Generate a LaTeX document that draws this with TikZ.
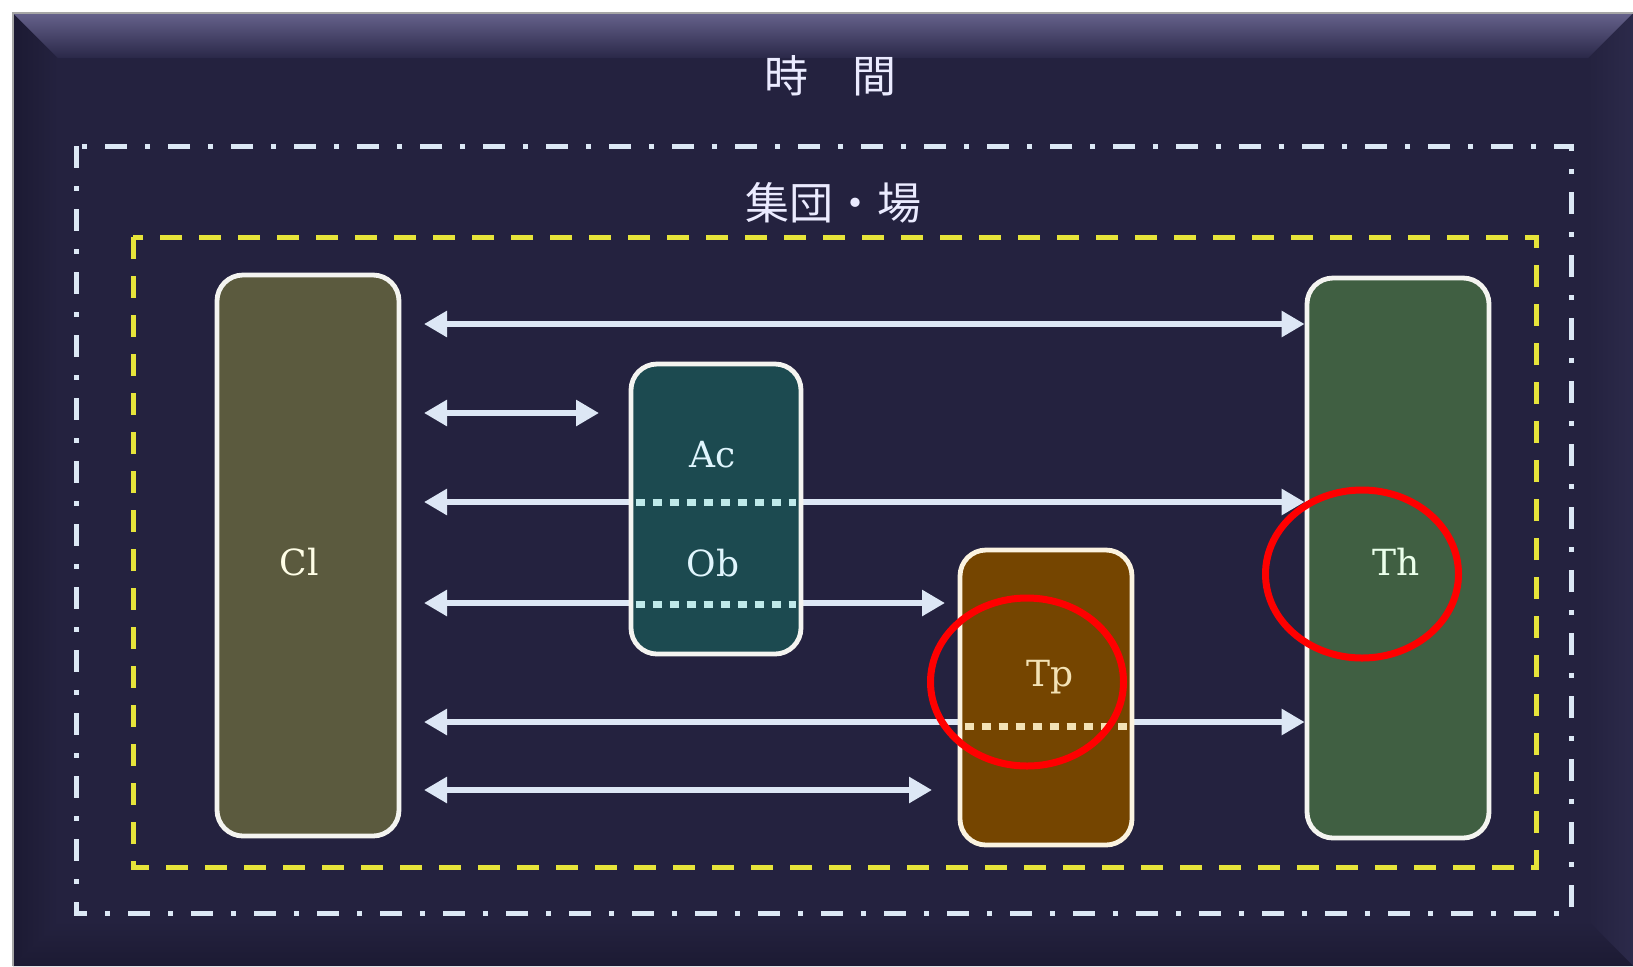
\documentclass[tikz,border=0pt]{standalone}
\usepackage{fontspec}
\setmainfont{DejaVu Serif}
\newfontfamily\cjk{Noto Sans CJK JP}
\usetikzlibrary{arrows.meta,calc,shapes.geometric}
\definecolor{bgc}{HTML}{24223F}
\definecolor{bevtop}{HTML}{66628C}
\definecolor{bevtopb}{HTML}{2A2848}
\definecolor{bevleft}{HTML}{1C1A33}
\definecolor{bevright}{HTML}{2C2A4A}
\definecolor{bevbot}{HTML}{1C1A33}
\definecolor{outerc}{HTML}{DCE8F5}
\definecolor{yelc}{HTML}{E6E43A}
\definecolor{arrc}{HTML}{DDE7F5}
\definecolor{clc}{HTML}{5B5A3E}
\definecolor{thc}{HTML}{405F42}
\definecolor{acc}{HTML}{1C4A50}
\definecolor{tpc}{HTML}{754500}
\definecolor{bordc}{HTML}{F4F4F0}
\definecolor{tpbord}{HTML}{FBF3E0}
\definecolor{acdot}{HTML}{BFEAEA}
\definecolor{tpdot}{HTML}{F3E2B5}
\definecolor{ringc}{HTML}{FF0000}
\begin{document}
\begin{tikzpicture}[x=0.5pt,y=-0.5pt,
  ttl/.style={text=white!92!blue, font=\cjk\fontsize{22pt}{24pt}\selectfont, inner sep=0pt},
  boxnode/.style={draw=bordc, line width=2.4pt, rounded corners=13pt, inner sep=0pt},
  lbl/.style={font=\fontsize{18pt}{20pt}\selectfont, inner sep=0pt},
  arr/.style={draw=arrc, line width=3.3pt, {Triangle[length=11.5pt,width=12.5pt]}-{Triangle[length=11.5pt,width=12.5pt]}},
  dotline/.style={line width=3.5pt, dash pattern=on 4.5pt off 4pt},
  redring/.style={draw=ringc, line width=3.5pt, ellipse, inner sep=0pt, minimum width=96.5pt, minimum height=84pt}
]
\useasboundingbox (0,0) rectangle (1633,966);
\fill[white] (0,0) rectangle (1633,966);
% panel with bevel
\fill[bgc] (13,13) rectangle (1633,966);
\shade[left color=bevleft, right color=bgc] (13,13) -- (58,58) -- (58,921) -- (13,966) -- cycle;
\shade[left color=bgc, right color=bevright] (1633,13) -- (1588,58) -- (1588,921) -- (1633,966) -- cycle;
\shade[top color=bgc, bottom color=bevbot] (13,966) -- (58,921) -- (1588,921) -- (1633,966) -- cycle;
\shade[top color=bevtop, bottom color=bevtopb] (13,13) -- (1633,13) -- (1588,58) -- (58,58) -- cycle;
\draw[gray!70, line width=0.8pt] (13,966) -- (13,13) -- (1633,13);
% frames
\draw[outerc, line width=2.5pt, dash pattern=on 11pt off 9pt on 2.5pt off 9pt] (76,146) rectangle (1571,913);
\draw[yelc, line width=2.5pt, dash pattern=on 11pt off 8.5pt] (133,237) rectangle (1536,867);
% titles
\node[ttl] (title) at (830,76) {時　間};
\node[ttl] (group) at (833,203) {集団・場};
% side boxes
\node[boxnode, fill=clc, minimum width=91pt, minimum height=280.5pt] (Cl) at (308,555.5) {};
\node[lbl, text=white!90!yellow] (ClT) at (299,562) {Cl};
\node[boxnode, fill=thc, minimum width=91pt, minimum height=280pt] (Th) at (1398,558) {};
\node[lbl, text=white!92!green] (ThT) at (1396,562) {Th};
% arrows
\coordinate (a1) at (424,324);
\coordinate (a2) at (424,413);
\coordinate (a2e) at (599,413);
\coordinate (a3) at (424,502);
\coordinate (a4) at (424,603);
\coordinate (a4e) at (945,603);
\coordinate (a5) at (424,722);
\coordinate (a6) at (424,790);
\coordinate (a6e) at (932,790);
\draw[arr] (a1) -- (a1 -| Th.west);
\draw[arr] (a2) -- (a2e);
\draw[arr] (a3) -- (a3 -| Th.west);
\draw[arr] (a4) -- (a4e);
\draw[arr] (a5) -- (a5 -| Th.west);
\draw[arr] (a6) -- (a6e);
% middle boxes
\node[boxnode, fill=acc, minimum width=85pt, minimum height=145pt] (Ac) at (716,509) {};
\node[boxnode, draw=tpbord, fill=tpc, minimum width=86pt, minimum height=147.5pt] (Tp) at (1046,697.5) {};
\draw[dotline, acdot] ($(Ac.west |- a3)+(7,0)$) -- ($(Ac.east |- a3)+(-7,0)$);
\draw[dotline, acdot] ($(Ac.west |- a4)+(7,1)$) -- ($(Ac.east |- a4)+(-7,1)$);
\draw[dotline, tpdot] ($(Tp.west |- a5)+(7,4)$) -- ($(Tp.east |- a5)+(-7,4)$);
\node[lbl, text=white!88!cyan] (AcT) at (713,455) {Ac};
\node[lbl, text=white!88!cyan] (ObT) at (713,563) {Ob};
\node[lbl, text=tpdot] (TpT) at (1050,677) {Tp};
% red rings
\node[redring] (ring1) at (1027,682) {};
\node[redring] (ring2) at (1362,574) {};
\end{tikzpicture}
\end{document}
